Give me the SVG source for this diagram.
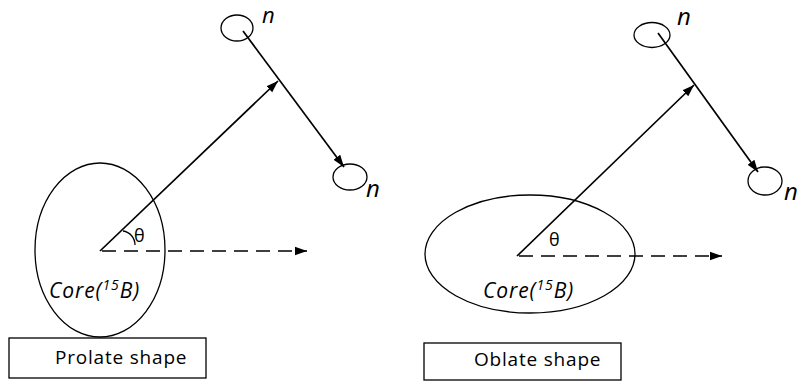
<svg xmlns="http://www.w3.org/2000/svg" width="798" height="382" viewBox="0 0 798 382">
<style>
.ln{stroke:#000;stroke-width:1.7;fill:none}
.sh{stroke:#000;stroke-width:1.3;fill:none}
.dash{stroke:#000;stroke-width:1.6;fill:none;stroke-dasharray:14 8}
.t{font-family:"Open Sans","Noto Sans",sans-serif;fill:#000}
.it{font-style:italic}
.core{font-size:21px;letter-spacing:0.9px}
.lbl{font-size:19px;letter-spacing:0.8px}
</style>
<defs>
<marker id="ah2" viewBox="0 0 10 10" refX="10" refY="5" markerWidth="12" markerHeight="12" markerUnits="userSpaceOnUse" orient="auto">
<path d="M0,1.5 L10,5 L0,8.5 Z" fill="#000"/>
</marker>
</defs>
<rect width="798" height="382" fill="#fff"/>

<g id="prolate">
<ellipse class="sh" cx="100" cy="250" rx="65" ry="87"/>
<text class="t it core" x="49" y="298">Core(<tspan font-size="14" dy="-8">15</tspan><tspan dy="8">B)</tspan></text>
</g>
<g id="prolate-label">
<rect class="sh" x="9" y="338" width="197" height="40"/>
<text class="t lbl" x="55" y="364">Prolate shape</text>
</g>
<g id="n1-left">
<ellipse class="sh" cx="237" cy="28" rx="16" ry="13"/>
<text class="t it" x="262" y="23" font-size="22">n</text>
</g>
<g id="n2-left">
<ellipse class="sh" cx="350" cy="177" rx="17" ry="13"/>
<text class="t it" x="366" y="197" font-size="24">n</text>
</g>
<g id="theta-left">
<path class="sh" d="M123,231 A14,14 0 0 1 135,245" stroke-width="1.2"/>
<text class="t" x="134" y="242" font-size="18">θ</text>
</g>

<g id="oblate">
<ellipse class="sh" cx="530" cy="254" rx="105" ry="59"/>
<text class="t it core" x="483" y="298">Core(<tspan font-size="14" dy="-8">15</tspan><tspan dy="8">B)</tspan></text>
</g>
<g id="oblate-label">
<rect class="sh" x="424" y="343" width="197" height="37"/>
<text class="t lbl" x="474" y="366">Oblate shape</text>
</g>
<g id="n1-right">
<ellipse class="sh" cx="652" cy="35" rx="18" ry="12.5"/>
<text class="t it" x="677" y="25" font-size="24">n</text>
</g>
<g id="n2-right">
<ellipse class="sh" cx="765" cy="181" rx="17" ry="14"/>
<text class="t it" x="784" y="200" font-size="24">n</text>
</g>
<g id="theta-right">
<text class="t" x="549" y="246" font-size="18">θ</text>
</g>

<g id="connectors">
<line class="ln" x1="100" y1="251" x2="278" y2="81" marker-end="url(#ah2)"/>
<line class="ln" x1="243" y1="31" x2="344" y2="167" marker-end="url(#ah2)"/>
<line class="dash" x1="102" y1="251" x2="307" y2="251" marker-end="url(#ah2)"/>
<line class="ln" x1="517" y1="256" x2="694" y2="85" marker-end="url(#ah2)"/>
<line class="ln" x1="658" y1="33" x2="758" y2="172" marker-end="url(#ah2)"/>
<line class="dash" x1="519" y1="256" x2="722" y2="256" marker-end="url(#ah2)"/>
</g>
</svg>
